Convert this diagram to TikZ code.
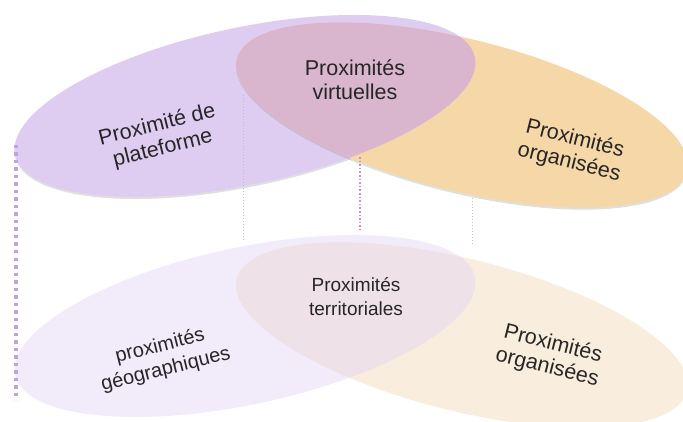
\documentclass[tikz,border=0pt]{standalone}
\usepackage{fontspec}
\setmainfont{Liberation Sans}
\usetikzlibrary{shadows}

\definecolor{plateHaut}{RGB}{222,205,241}
\definecolor{orgaHaut}{RGB}{246,215,168}
\definecolor{lensHaut}{RGB}{217,182,206}
\definecolor{geoBas}{RGB}{241,235,250}
\definecolor{orgaBas}{RGB}{249,238,221}
\definecolor{lensBas}{RGB}{239,225,232}
\definecolor{guideMauve}{RGB}{190,165,225}

\tikzset{
  venntext/.style={align=center, text=black!85, font=\fontsize{21.5}{24}\selectfont},
  venntextbas/.style={venntext, font=\fontsize{20}{24}\selectfont},
  guide/.style={dotted, line width=1pt, draw=guideMauve!80},
  haut/.style={drop shadow={opacity=0.25, shadow xshift=0pt, shadow yshift=-2pt}},
}

\begin{document}
\begin{tikzpicture}[x=1pt,y=1pt]
    \useasboundingbox (0,0) rectangle (683,421);

    % plan du haut
    \fill[plateHaut, haut, rotate around={12:(245,315)}] (245,315) ellipse [x radius=235, y radius=78.5];
    \fill[orgaHaut, haut, rotate around={-14:(462,306)}] (462,306) ellipse [x radius=232, y radius=76];
    \begin{scope}
        \clip[rotate around={12:(245,315)}] (245,315) ellipse [x radius=235, y radius=78.5];
        \fill[lensHaut, rotate around={-14:(462,306)}] (462,306) ellipse [x radius=232, y radius=76];
    \end{scope}

    % plan du bas
    \fill[geoBas, rotate around={12:(245,95)}] (245,95) ellipse [x radius=235, y radius=78.5];
    \fill[orgaBas, rotate around={-14:(462,86)}] (462,86) ellipse [x radius=232, y radius=76];
    \begin{scope}
        \clip[rotate around={12:(245,95)}] (245,95) ellipse [x radius=235, y radius=78.5];
        \fill[lensBas, rotate around={-14:(462,86)}] (462,86) ellipse [x radius=232, y radius=76];
    \end{scope}

    % reperes verticaux
    \coordinate (g1) at (16,276);  \coordinate (g1b) at (16,21);
    \coordinate (g2) at (243,326); \coordinate (g2b) at (243,181);
    \coordinate (g3) at (360,264); \coordinate (g3b) at (360,191);
    \coordinate (g4) at (472,223); \coordinate (g4b) at (472,176);

    \draw[guideMauve, line width=3.5pt, dash pattern=on 3.5pt off 4pt] (g1) -- (g1b);
    \draw[guide, draw=black!25] (g2) -- (g2b);
    \draw[guide, draw=lensHaut!80!violet, line width=1.6pt] (g3) -- (g3b);
    \draw[guide] (g4) -- (g4b);

    \node[venntext, rotate=14] (plateforme) at (160,284) {Proximité de\\plateforme};
    \node[venntext] (virtuelles) at (355,341) {Proximités\\virtuelles};
    \node[venntext, rotate=-14] (orgaH) at (572,270) {Proximités\\organisées};

    \node[venntextbas, rotate=14] (geographiques) at (163,63) {proximités\\géographiques};
    \node[venntextbas, font=\fontsize{19}{24}\selectfont] (territoriales) at (356,124) {Proximités\\territoriales};
    \node[venntext, rotate=-14] (orgaB) at (550,65) {Proximités\\organisées};
\end{tikzpicture}
\end{document}
